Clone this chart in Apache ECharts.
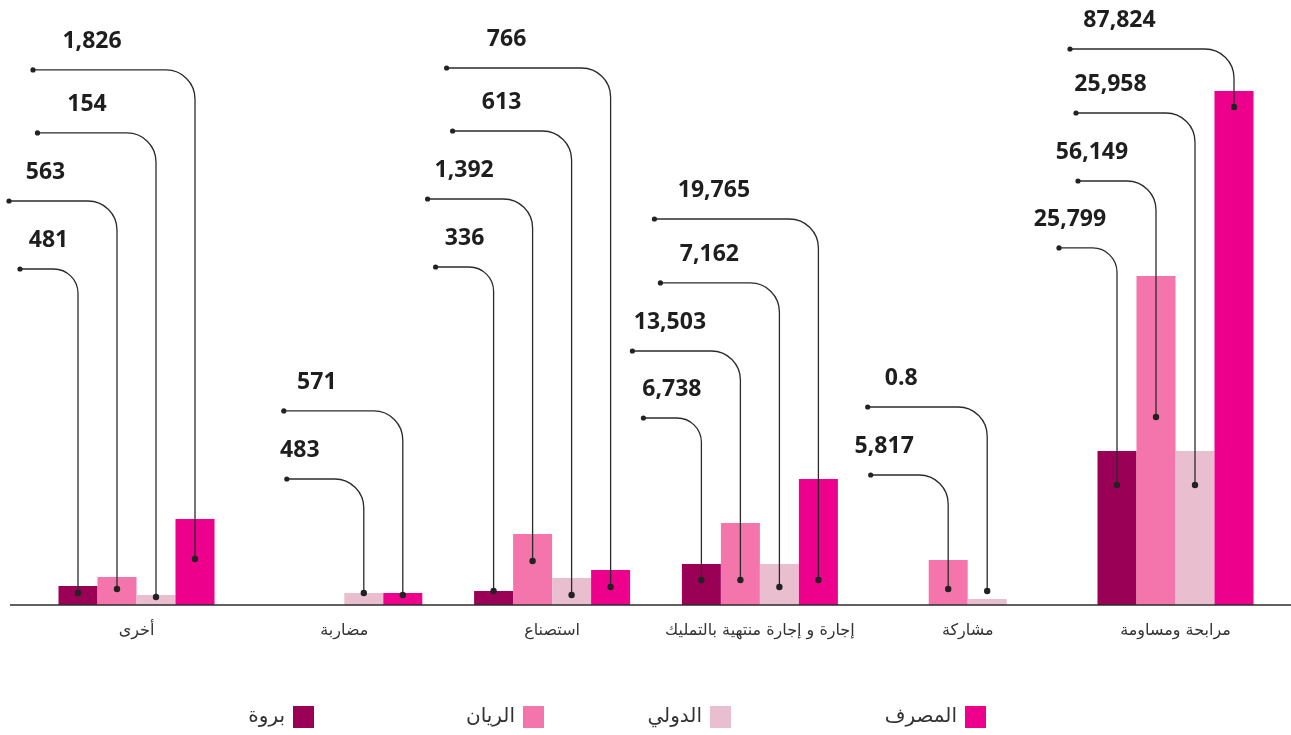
<!DOCTYPE html>
<html>
<head>
<meta charset="utf-8">
<title>التمويل حسب النوع</title>
<script src="https://cdn.jsdelivr.net/npm/echarts@6/dist/echarts.min.js"></script>
<style>
    html, body { margin: 0; padding: 0; background: #fff; }
    #main { width: 1291px; height: 735px; }
</style>
</head>
<body>
<div id="main"></div>
<script>
// categories, left to right
var categories = ['أخرى', 'مضاربة', 'استصناع', 'إجارة و إجارة منتهية بالتمليك', 'مشاركة', 'مرابحة ومساومة'];
var seriesNames = ['بروة', 'الريان', 'الدولي', 'المصرف'];

// bar heights as drawn
var barwa  = [3250, null, 2390, 7000, null, 26300];
var rayan  = [4780, null, 12130, 14010, 7690, 56190];
var dawli  = [1710, 2050, 4610, 7000, 1020, 26300];
var masraf = [14690, 2050, 5980, 21520, null, 87790];

// printed labels
var barwaLabels  = ['481', null, '336', '6,738', null, '25,799'];
var rayanLabels  = ['563', null, '1,392', '13,503', '5,817', '56,149'];
var dawliLabels  = ['154', '483', '613', '7,162', '0.8', '25,958'];
var masrafLabels = ['1,826', '571', '766', '19,765', null, '87,824'];

// leader layout: [dot level, line level, arm px, text offset px]
var barwaLead = [[2050, 57390, 58, -29.5], null, [2390, 57730, 58, -29], [4270, 31940, 58, -29.5], null, [20500, 60980, 58, -47]];
var rayanLead = [[2730, 69000, 108, -71.5], null, [7520, 69340, 105, -68.5], [4270, 43380, 108, -70.5], [2730, 22200, 77.5, -64], [32110, 72420, 78, -64]];
var dawliLead = [[1370, 80620, 118.5, -69], [2050, 21520, 77, -64], [1710, 80960, 119, -70], [3070, 55000, 119, -70], [2390, 33820, 119.5, -86], [20500, 84030, 119, -84.5]];
var masrafLead = [[7860, 91380, 162, -103], [1710, 33140, 119, -86], [3070, 91720, 164, -104], [4270, 65930, 164, -104.5], null, [85060, 94960, 164, -114.5]];

var legendRight = [977, 747, 560, 305];

var colors = ['#9b0057', '#f375ab', '#e9bfd0', '#ec008c'];
var barW = 39;
var arabicFont = 'DejaVu Sans';

var chart = echarts.init(document.getElementById('main'));

function leaderSeries(s, lead, labels) {
    var data = [];
    lead.forEach(function (l, i) {
        if (l) data.push([i, l[0], l[1], l[2], l[3]]);
    });
    return {
        type: 'custom',
        silent: true,
        z: 5,
        clip: false,
        data: data,
        renderItem: function (params, api) {
            var cat = api.value(0);
            var x = api.coord([cat, 0])[0] + (s - 1.5) * barW;
            var yDot = api.coord([cat, api.value(1)])[1];
            var yTop = api.coord([cat, api.value(2)])[1];
            var arm = api.value(3);
            var r = Math.min(29, arm * 0.42);
            var k = 0.5523 * r;
            var d = 'M' + (x - arm) + ' ' + yTop +
                ' L' + (x - r) + ' ' + yTop +
                ' C' + (x - r + k) + ' ' + yTop + ' ' + x + ' ' + (yTop + r - k) + ' ' + x + ' ' + (yTop + r) +
                ' L' + x + ' ' + yDot;
            return {
                type: 'group',
                children: [
                    { type: 'path', shape: { pathData: d }, style: { stroke: '#2b2b2b', lineWidth: 1.3, fill: 'none' } },
                    { type: 'circle', shape: { cx: x - arm, cy: yTop, r: 2.6 }, style: { fill: '#222' } },
                    { type: 'circle', shape: { cx: x, cy: yDot, r: 3.2 }, style: { fill: '#222' } },
                    {
                        type: 'text',
                        style: {
                            text: labels[cat],
                            x: x + api.value(4),
                            y: yTop - 28.5,
                            align: 'center',
                            verticalAlign: 'middle',
                            font: 'bold 23px "Open Sans"',
                            fill: '#1e1e1e'
                        }
                    }
                ]
            };
        }
    };
}

var barData = [barwa, rayan, dawli, masraf];
var series = barData.map(function (d, i) {
    return {
        name: seriesNames[i],
        type: 'bar',
        data: d,
        barWidth: barW,
        barGap: '0%',
        itemStyle: { color: colors[i] },
        silent: true
    };
});
series.push(leaderSeries(0, barwaLead, barwaLabels));
series.push(leaderSeries(1, rayanLead, rayanLabels));
series.push(leaderSeries(2, dawliLead, dawliLabels));
series.push(leaderSeries(3, masrafLead, masrafLabels));

chart.setOption({
    animation: false,
    color: colors,
    grid: { left: 32.6, right: 11.6, top: 0, bottom: 130 },
    legend: seriesNames.map(function (n, i) {
        return {
            data: [n],
            right: legendRight[i],
            top: 706,
            align: 'right',
            icon: 'rect',
            itemWidth: 21,
            itemHeight: 22,
            padding: 0,
            selectedMode: false,
            textStyle: { fontFamily: arabicFont, fontSize: 20, color: '#333', padding: [0, 3, 0, 0] }
        };
    }),
    xAxis: {
        type: 'category',
        data: categories,
        axisLine: { show: false },
        axisTick: { show: false },
        axisLabel: { interval: 0, margin: 18, fontFamily: arabicFont, fontSize: 16, color: '#333' }
    },
    yAxis: {
        type: 'value',
        min: 0,
        max: 103330,
        show: false,
        splitLine: { show: false }
    },
    series: series
});

// base line runs wider than the plot
var baseY = chart.convertToPixel({ yAxisIndex: 0 }, 0);
chart.setOption({
    graphic: [{
        type: 'line',
        z: 10,
        shape: { x1: 10, y1: baseY, x2: 1291, y2: baseY },
        style: { stroke: '#2b2b2b', lineWidth: 1.5 }
    }]
});
</script>
</body>
</html>
